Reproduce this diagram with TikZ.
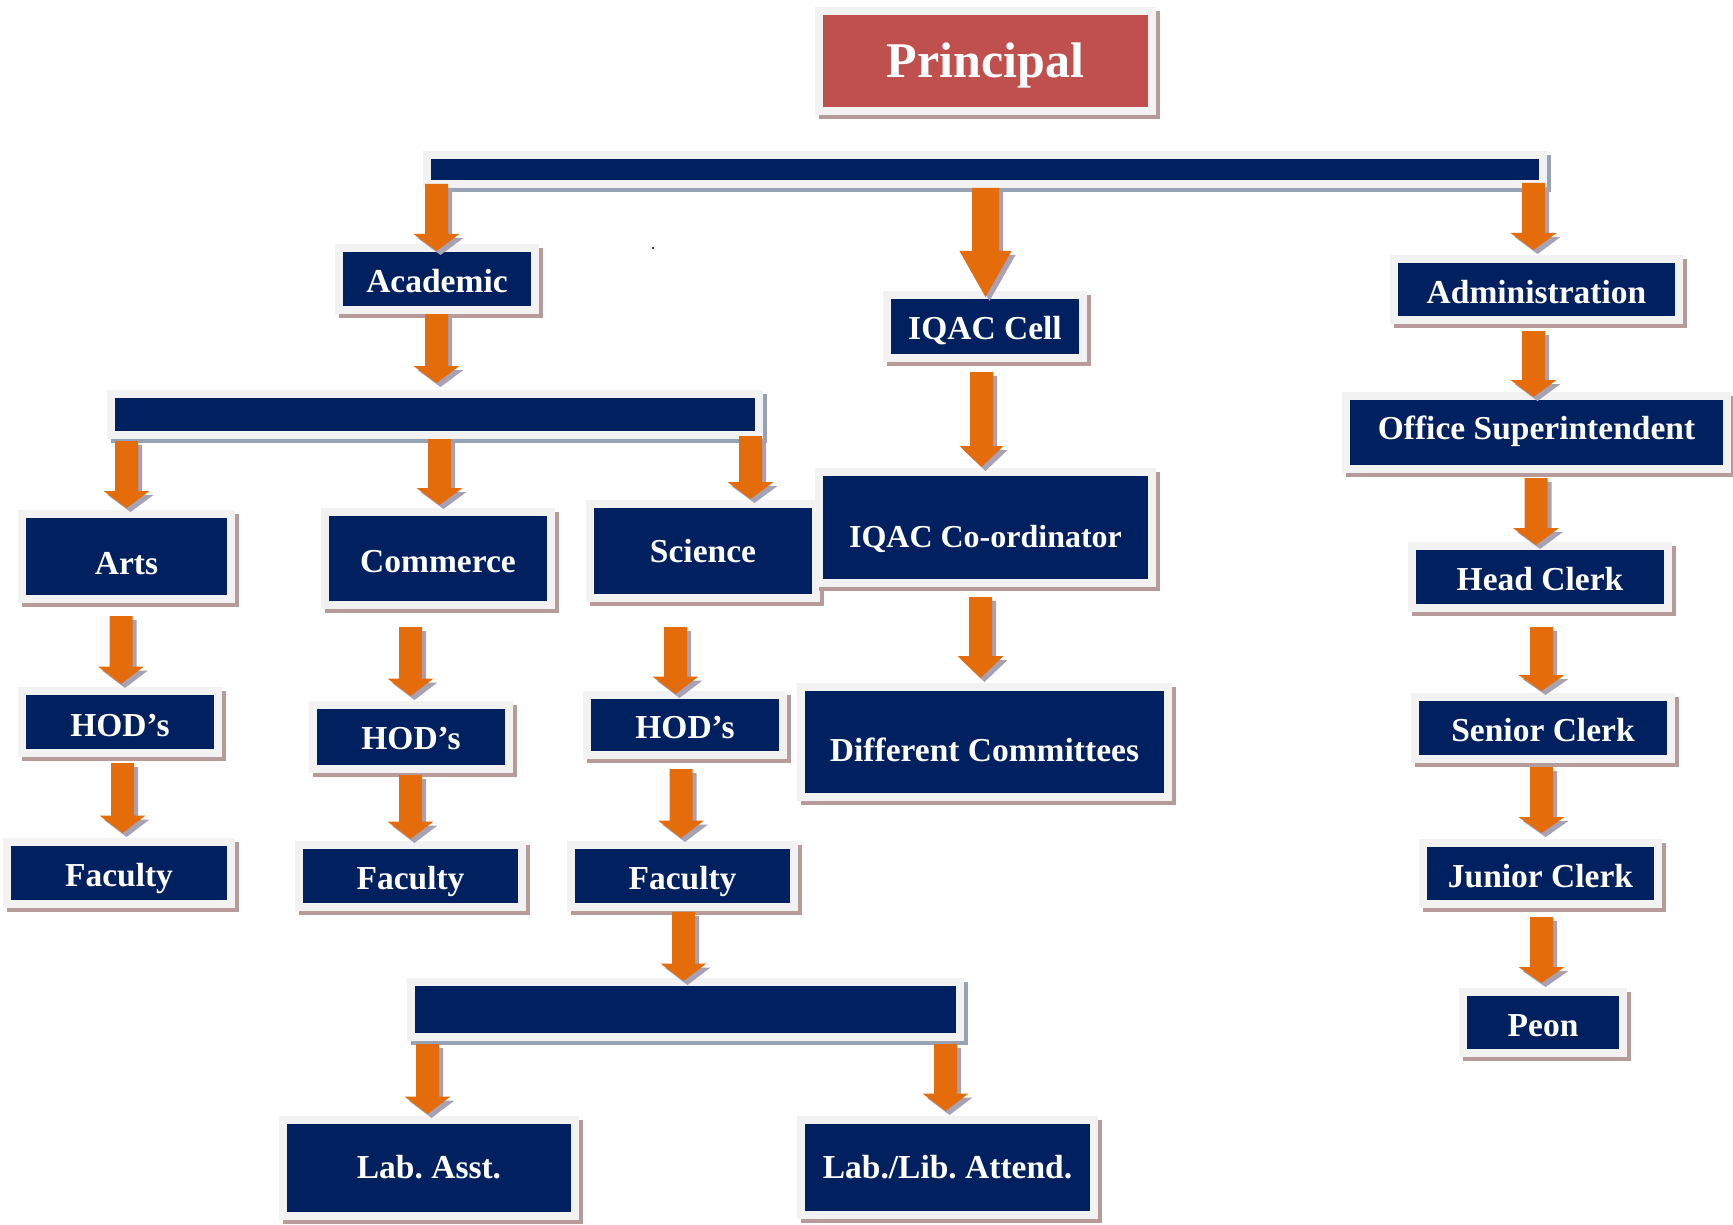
\documentclass[tikz,border=0pt]{standalone}
\usepackage{fontspec}
\setmainfont{Liberation Serif}
\usetikzlibrary{calc,backgrounds}
\frenchspacing
\definecolor{navyc}{HTML}{002060}
\definecolor{bordc}{HTML}{F2F2F2}
\definecolor{redc}{HTML}{C0504D}
\definecolor{arrfill}{HTML}{E46C0A}
\definecolor{boxsh}{HTML}{B79A9A}
\definecolor{barsh}{HTML}{95A3B5}
\definecolor{arrsh}{HTML}{A6A1B5}
% box: name, cx, cy, width, height, style, text shift (down, px), text
\newcommand\ubox[8]{%
  \node[#6, minimum width=#4pt, minimum height=#5pt] (#1) at (#2,#3) {\raisebox{-#7pt}{#8}};}
% block arrow: from, to, x, top gap, tip offset, stem half width, head half width, head length
\newcommand\barrow[8]{%
  \foreach \dx/\dy/\col in {4/4/arrsh, 0/0/arrfill}{
    \fill[\col] let \p1=(#1.south), \p2=(#2.north) in
      ({#3pt-#6pt+\dx pt},{\y1-(#4pt)-\dy pt}) -- ({#3pt+#6pt+\dx pt},{\y1-(#4pt)-\dy pt})
      -- ({#3pt+#6pt+\dx pt},{\y2-(#5pt)+#8pt-\dy pt}) -- ({#3pt+#7pt+\dx pt},{\y2-(#5pt)+#8pt-\dy pt})
      -- ({#3pt+\dx pt},{\y2-(#5pt)-\dy pt}) -- ({#3pt-#7pt+\dx pt},{\y2-(#5pt)+#8pt-\dy pt})
      -- ({#3pt-#6pt+\dx pt},{\y2-(#5pt)+#8pt-\dy pt}) -- cycle;
  }}
\tikzset{
  bxbase/.style={draw=bordc, line width=8pt, inner sep=0pt, text=white, text depth=0pt},
  ubx/.style={bxbase, fill=navyc, font=\bfseries\fontsize{33.5}{40}\selectfont, text height=22.2pt,
    preaction={draw=boxsh, fill=boxsh, line width=8pt, transform canvas={shift={(4pt,-4pt)}}}},
  pbx/.style={bxbase, fill=redc, font=\bfseries\fontsize{50}{60}\selectfont, text height=33.1pt,
    preaction={draw=boxsh, fill=boxsh, line width=8pt, transform canvas={shift={(4pt,-4pt)}}}},
  ubar/.style={bxbase, fill=navyc, text height=0pt,
    preaction={draw=barsh, fill=barsh, line width=8pt, transform canvas={shift={(4pt,-4pt)}}}},
}
\begin{document}
\begin{tikzpicture}[x=1pt,y=-1pt]
\useasboundingbox (0,0) rectangle (1733,1225);
\fill[white] (0,0) rectangle (1733,1225);

% boxes
\ubox{principal}{985.5}{61}{333}{100}{pbx}{0}{Principal}
\ubox{topbar}{985}{169.5}{1116}{29}{ubar}{0}{}
\ubox{academic}{437}{279}{196}{62}{ubx}{2}{Academic}
\ubox{iqac}{985}{326.5}{196}{63}{ubx}{1.5}{IQAC Cell}
\ubox{admin}{1536.5}{289.5}{285}{61}{ubx}{3}{Administration}
\ubox{acadbar}{435}{414.5}{648}{41}{ubar}{0}{}
\ubox{office}{1536.5}{432.5}{381}{73}{ubx}{-4.5}{Office Superintendent}
\ubox{arts}{126.5}{556.5}{209}{85}{ubx}{6.5}{Arts}
\ubox{commerce}{438}{558.5}{226}{93}{ubx}{2.5}{Commerce}
\ubox{science}{703}{551}{226}{94}{ubx}{0}{Science}
\ubox{coord}{985.5}{527.5}{333}{111}{ubx}{8.5}{\fontsize{32}{38}\selectfont IQAC Co-ordinator}
\ubox{head}{1540}{577}{256}{62}{ubx}{2}{Head Clerk}
\ubox{hodA}{120}{722}{196}{62}{ubx}{3}{HOD’s}
\ubox{hodC}{411}{737}{196}{64}{ubx}{1.5}{HOD’s}
\ubox{hodS}{685}{725}{196}{60}{ubx}{2}{HOD’s}
\ubox{committees}{984.5}{742}{367}{110}{ubx}{8}{Different Committees}
\ubox{senior}{1543}{728}{256}{62}{ubx}{2}{Senior Clerk}
\ubox{facA}{119}{873}{224}{62}{ubx}{2}{Faculty}
\ubox{facC}{410.5}{876}{223}{62}{ubx}{2}{Faculty}
\ubox{facS}{682.5}{876}{223}{62}{ubx}{2}{Faculty}
\ubox{junior}{1540.5}{873.5}{235}{61}{ubx}{2.5}{Junior Clerk}
\ubox{sbar}{685.5}{1009.5}{549}{55}{ubar}{0}{}
\ubox{peon}{1543}{1022.5}{160}{61}{ubx}{3}{Peon}
\ubox{labA}{429}{1168}{292}{96}{ubx}{-1}{Lab. Asst.}
\ubox{labL}{947.5}{1167.5}{293}{95}{ubx}{0}{Lab./Lib. Attend.}

% stem from Principal to the top bar
\begin{scope}[on background layer]
  \draw[barsh, line width=27pt] ([xshift=3pt]principal.south) -- ([xshift=3pt]principal.south |- topbar.north);
  \draw[arrfill, line width=27pt] (principal.south) -- (principal.south |- topbar.north);
\end{scope}

% arrows
\barrow{topbar}{academic}{436.5}{-4}{7}{11.5}{23}{17}
\barrow{topbar}{iqac}{985.5}{0}{6}{13.5}{26}{46}
\barrow{topbar}{admin}{1533.5}{-5}{-5}{11.5}{23}{17}
\barrow{academic}{acadbar}{436.5}{0}{-7}{11.5}{23}{17}
\barrow{acadbar}{arts}{126.5}{2}{-2}{11.5}{23}{17}
\barrow{acadbar}{commerce}{439.5}{0}{-3}{11.5}{23}{17}
\barrow{acadbar}{science}{750.5}{-3}{-1}{11.5}{23}{17}
\barrow{arts}{hodA}{121}{13}{-3}{11.5}{23}{17.5}
\barrow{hodA}{facA}{122.5}{6}{-5}{11.5}{23}{17.5}
\barrow{commerce}{hodC}{410.5}{18}{-5}{11.5}{23}{17.5}
\barrow{hodC}{facC}{410.5}{2}{-2}{11.5}{23}{17.5}
\barrow{science}{hodS}{675.5}{25}{3}{11.5}{23}{17.5}
\barrow{hodS}{facS}{681}{10}{-3}{11.5}{23}{17.5}
\barrow{facS}{sbar}{683.5}{1}{3}{11.5}{23}{17.5}
\barrow{sbar}{labA}{427.5}{3}{-2}{11.5}{23}{17.5}
\barrow{sbar}{labL}{945.5}{3}{-5}{11.5}{23}{17.5}
\barrow{iqac}{coord}{981.5}{10}{-1}{11.5}{22}{21}
\barrow{coord}{committees}{980.5}{10}{-5}{11.5}{23}{22}
\barrow{admin}{office}{1533.5}{7}{5}{11.5}{23}{17}
\barrow{office}{head}{1536}{5}{3}{11.5}{23}{17}
\barrow{head}{senior}{1541.5}{15}{-2}{11.5}{23}{16}
\barrow{senior}{junior}{1541.5}{4}{-6}{11.5}{23}{16}
\barrow{junior}{peon}{1541.5}{9}{-5}{11.5}{23}{16}

% stray dot
\fill[black] (653,248) circle (1.1pt);
\end{tikzpicture}
\end{document}
